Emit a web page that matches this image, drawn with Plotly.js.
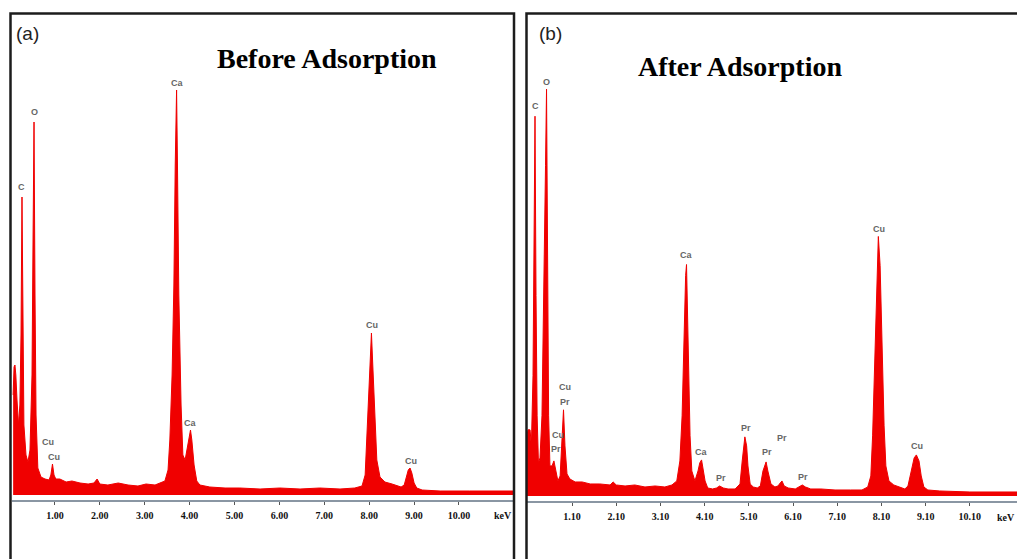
<!DOCTYPE html>
<html>
<head>
<meta charset="utf-8">
<script src="https://cdn.plot.ly/plotly-3.0.1.min.js"></script>
<style>
  html, body { margin: 0; padding: 0; background: #ffffff; }
  #chart { width: 1017px; height: 559px; }
</style>
</head>
<body>
<div id="chart"></div>
<script>
// ---------- Data (energy in keV, counts in arbitrary units) ----------
const energyA = [0.07, 0.09, 0.11, 0.13, 0.156, 0.19, 0.22, 0.245, 0.267, 0.29, 0.31, 0.356, 0.40, 0.445, 0.49, 0.512, 0.535, 0.557, 0.58, 0.62, 0.69, 0.78, 0.87, 0.91, 0.946, 0.98, 1.02, 1.11, 1.25, 1.38, 1.56, 1.74, 1.87, 1.94, 2.0, 2.18, 2.41, 2.63, 2.85, 3.03, 3.23, 3.34, 3.45, 3.52, 3.56, 3.61, 3.65, 3.68, 3.71, 3.73, 3.76, 3.81, 3.85, 3.90, 3.94, 3.99, 4.02, 4.05, 4.10, 4.16, 4.23, 4.45, 4.79, 5.12, 5.57, 6.01, 6.46, 6.9, 7.35, 7.68, 7.84, 7.91, 7.95, 8.0, 8.03, 8.05, 8.08, 8.13, 8.17, 8.24, 8.35, 8.51, 8.64, 8.71, 8.78, 8.82, 8.87, 8.91, 8.95, 9.0, 9.06, 9.18, 9.58, 10.24, 11.25];
const countsA = [100, 128, 130, 120, 95, 70, 90, 160, 298, 150, 70, 40, 33, 45, 120, 250, 373, 200, 80, 27, 18, 16, 15, 20, 31, 20, 16, 16, 13, 14, 12, 11, 12, 16, 11, 10, 12, 10, 9, 11, 10, 12, 14, 25, 55, 120, 210, 330, 405, 330, 200, 90, 40, 35, 45, 58, 65, 55, 30, 14, 10, 8, 7, 7, 6, 7, 6, 7, 6, 7, 9, 20, 60, 110, 150, 162, 130, 70, 35, 18, 13, 11, 9, 8, 10, 18, 25, 27, 22, 12, 7, 5, 4, 4, 4];

const energyB = [0.08, 0.104, 0.15, 0.18, 0.217, 0.24, 0.262, 0.285, 0.31, 0.34, 0.375, 0.42, 0.466, 0.50, 0.523, 0.545, 0.57, 0.60, 0.647, 0.69, 0.737, 0.78, 0.83, 0.87, 0.907, 0.94, 0.986, 1.05, 1.17, 1.33, 1.51, 1.73, 1.96, 2.03, 2.1, 2.3, 2.52, 2.75, 2.98, 3.2, 3.36, 3.47, 3.54, 3.59, 3.63, 3.67, 3.69, 3.72, 3.77, 3.81, 3.88, 3.95, 3.99, 4.03, 4.06, 4.11, 4.17, 4.28, 4.37, 4.44, 4.52, 4.63, 4.79, 4.9, 4.95, 4.99, 5.01, 5.05, 5.08, 5.13, 5.2, 5.29, 5.36, 5.42, 5.47, 5.49, 5.53, 5.6, 5.69, 5.76, 5.81, 5.85, 5.9, 5.99, 6.15, 6.25, 6.31, 6.38, 6.5, 6.73, 7.05, 7.4, 7.66, 7.79, 7.86, 7.9, 7.95, 8.0, 8.03, 8.07, 8.11, 8.16, 8.2, 8.27, 8.38, 8.52, 8.63, 8.7, 8.77, 8.84, 8.89, 8.95, 9.0, 9.06, 9.15, 9.42, 10.1, 11.43];
const countsB = [60, 66, 66, 50, 120, 250, 379, 200, 80, 33, 38, 80, 200, 330, 406, 250, 80, 30, 30, 35, 25, 15, 20, 55, 86, 50, 22, 17, 14, 14, 12, 12, 11, 14, 11, 10, 11, 9, 10, 9, 11, 15, 35, 80, 160, 220, 231, 160, 60, 25, 15, 25, 33, 36, 28, 15, 8, 7, 8, 10, 8, 7, 7, 12, 35, 55, 59, 50, 30, 12, 9, 8, 10, 25, 33, 34, 25, 12, 9, 10, 13, 15, 10, 8, 7, 9, 11, 9, 7, 7, 6, 6, 6, 9, 20, 60, 140, 220, 259, 230, 150, 70, 30, 15, 11, 9, 7, 10, 25, 38, 41, 35, 20, 9, 6, 5, 4, 4];

// Peak labels
const labelTextA   = ['C', 'O', 'Ca', 'Ca', 'Cu', 'Cu', 'Cu', 'Cu'];
const labelEnergyA = [0.267, 0.535, 3.72, 4.03, 0.846, 0.98, 8.06, 8.93];
const labelCountsA = [308, 383, 412, 72, 53, 38, 170, 34];

const labelTextB   = ['C', 'O', 'Cu', 'Pr', 'Cu', 'Pr', 'Ca', 'Ca', 'Pr', 'Pr', 'Pr', 'Pr', 'Pr', 'Cu', 'Cu'];
const labelEnergyB = [0.262, 0.511, 0.94, 0.94, 0.78, 0.74, 3.68, 4.02, 4.47, 5.04, 5.51, 5.85, 6.33, 8.04, 8.90];
const labelCountsB = [389, 413, 109, 94, 61, 47, 240, 44, 18, 68, 44, 58, 19, 266, 50];

// Axis ticks
const tickValsA = [1, 2, 3, 4, 5, 6, 7, 8, 9, 10];
const tickTextA = ['1.00', '2.00', '3.00', '4.00', '5.00', '6.00', '7.00', '8.00', '9.00', '10.00'];
const tickValsB = [1.1, 2.1, 3.1, 4.1, 5.1, 6.1, 7.1, 8.1, 9.1, 10.1];
const tickTextB = ['1.10', '2.10', '3.10', '4.10', '5.10', '6.10', '7.10', '8.10', '9.10', '10.10'];

const panelTitles = ['Before Adsorption', 'After Adsorption'];
const panelLetters = ['(a)', '(b)'];
const unitLabel = 'keV';

// ---------- Layout helpers (pixel -> paper) ----------
const W = 1017, H = 559;
const px = v => v / W;
const py = v => (H - v) / H;

const red = 'rgb(240,0,0)';
const tickFont = { family: 'Liberation Serif, serif', size: 10, color: '#111', weight: 'bold' };
const peakFont = { family: 'Liberation Sans, Arial, sans-serif', size: 9, color: '#666', weight: 'bold' };

const traces = [
  { x: energyA, y: countsA, xaxis: 'x', yaxis: 'y', type: 'scatter', mode: 'lines',
    fill: 'tozeroy', fillcolor: red, line: { color: red, width: 1 }, hoverinfo: 'skip' },
  { x: energyB, y: countsB, xaxis: 'x2', yaxis: 'y2', type: 'scatter', mode: 'lines',
    fill: 'tozeroy', fillcolor: red, line: { color: red, width: 1 }, hoverinfo: 'skip' }
];

const annotations = [];
labelTextA.forEach((t, i) => annotations.push({
  x: labelEnergyA[i], y: labelCountsA[i], xref: 'x', yref: 'y', text: t,
  showarrow: false, font: peakFont, xanchor: 'center', yanchor: 'middle'
}));
labelTextB.forEach((t, i) => annotations.push({
  x: labelEnergyB[i], y: labelCountsB[i], xref: 'x2', yref: 'y2', text: t,
  showarrow: false, font: peakFont, xanchor: 'center', yanchor: 'middle'
}));
const paperText = (x, y, text, font) => ({
  x: px(x), y: py(y), xref: 'paper', yref: 'paper', text: text, showarrow: false,
  xanchor: 'center', yanchor: 'middle', font: font
});
const titleFont = { family: 'Liberation Serif, serif', size: 28, color: '#000', weight: 'bold' };
const letterFont = { family: 'Liberation Sans, Arial, sans-serif', size: 19, color: '#222' };
annotations.push(
  paperText(327, 58, panelTitles[0], titleFont),
  paperText(740, 66, panelTitles[1], titleFont),
  paperText(27, 33, panelLetters[0], letterFont),
  paperText(550, 33, panelLetters[1], letterFont),
  paperText(503, 515, unitLabel, tickFont),
  paperText(1006, 517, unitLabel, tickFont)
);

const axisCommon = {
  showgrid: false, zeroline: false, showline: true, linecolor: '#8a96a3', linewidth: 2,
  ticks: 'outside', ticklen: 3, tickwidth: 1, tickcolor: '#555', tickmode: 'array',
  tickfont: tickFont, ticklabelstandoff: 2, fixedrange: true
};

const layout = {
  width: W, height: H,
  margin: { l: 0, r: 0, t: 0, b: 0, pad: 0 },
  paper_bgcolor: '#ffffff', plot_bgcolor: 'rgba(0,0,0,0)',
  showlegend: false,
  xaxis: Object.assign({}, axisCommon, {
    domain: [px(12), px(513)], range: [0.0445, 11.203], anchor: 'y',
    tickvals: tickValsA, ticktext: tickTextA
  }),
  yaxis: { domain: [py(500), py(15)], range: [-5, 480], visible: false, fixedrange: true, anchor: 'x' },
  xaxis2: Object.assign({}, axisCommon, {
    domain: [px(527), 1], range: [0.081, 11.167], anchor: 'y2', ticklabelstandoff: 2,
    tickvals: tickValsB, ticktext: tickTextB
  }),
  yaxis2: { domain: [py(501), py(15)], range: [-5, 480], visible: false, fixedrange: true, anchor: 'x2' },
  annotations: annotations,
  shapes: [
    { type: 'rect', xref: 'paper', yref: 'paper', x0: px(10.5), x1: px(514), y0: py(575), y1: py(13.5),
      line: { color: '#1c1c1c', width: 2.5 }, fillcolor: 'rgba(0,0,0,0)' },
    { type: 'rect', xref: 'paper', yref: 'paper', x0: px(526.5), x1: px(1030), y0: py(575), y1: py(13.5),
      line: { color: '#1c1c1c', width: 2.5 }, fillcolor: 'rgba(0,0,0,0)' }
  ]
};

Plotly.newPlot('chart', traces, layout, { displayModeBar: false, staticPlot: true });
</script>
</body>
</html>
